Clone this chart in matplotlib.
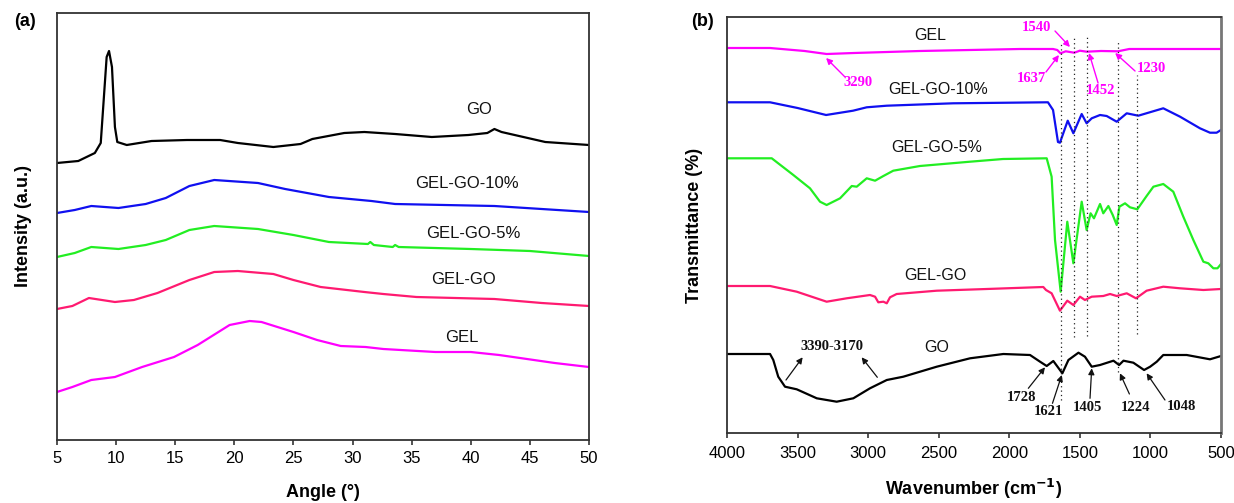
import matplotlib
matplotlib.use("Agg")
import matplotlib.pyplot as plt

plt.rcParams['font.family'] = ['Liberation Sans', 'DejaVu Sans']

# ---------------- Panel (a): XRD ----------------
go_a_x = [5, 6.8, 8.2, 8.7, 8.95, 9.2, 9.4, 9.65, 9.9, 10.1, 10.9, 13, 16, 18.8, 20.3, 23.3, 25.6, 26.6, 29.3, 31, 33.6, 36.7, 39.8, 41.4, 42, 42.6, 46.3, 50]
go_a_y = [277, 279, 287, 297, 340, 383, 389, 373, 313, 298, 295, 299, 300, 300, 297, 293, 296, 301, 307, 308, 306, 303, 305, 307, 311, 308, 298, 295]

g10_x = [5, 6.5, 7.9, 10.2, 12.5, 14.2, 16.2, 18.3, 22, 24.3, 28, 31.6, 33.6, 42, 50]
g10_y = [227, 230, 234, 232, 236, 242, 254, 260, 257, 251, 243, 239, 236, 234, 228]

g5_x = [5, 6.5, 7.9, 10.2, 12.5, 14.2, 16.2, 18.3, 22, 25, 28, 31.3, 31.5, 31.8, 33.4, 33.6, 33.9, 40, 45, 50]
g5_y = [183, 187, 193, 191, 195, 200, 210, 214, 211, 205, 198, 196, 198, 195, 193, 195, 193, 191, 189, 184]

gelgo_a_x = [5, 6.3, 7.7, 9.9, 11.5, 13.5, 16.2, 18.3, 20.3, 23.3, 25, 27.3, 31, 32.6, 35.4, 42, 46, 50]
gelgo_a_y = [131, 134, 142, 138, 140, 147, 160, 168, 169, 166, 160, 153, 148, 146, 143, 141, 137, 134]

gel_a_x = [5, 6.3, 7.9, 9.9, 12.2, 14.9, 16.9, 19.6, 21.3, 22.3, 25, 27, 29, 31.1, 32.6, 37, 40, 42.4, 47.1, 50]
gel_a_y = [48, 53, 60, 63, 73, 83, 95, 115, 119, 118, 108, 100, 94, 93, 91, 88, 88, 85, 77, 73]

xrd_labels = ["GO", "GEL-GO-10%", "GEL-GO-5%", "GEL-GO", "GEL"]
xrd_label_x = [40.7, 39.7, 40.2, 39.4, 39.2]
xrd_label_y = [330, 256, 206, 161, 102]

xrd_ticks = [5, 10, 15, 20, 25, 30, 35, 40, 45, 50]

# ---------------- Panel (b): FTIR ----------------
gel_b_x = [4000, 3695, 3450, 3294, 3100, 2633, 1924, 1690, 1660, 1637, 1600, 1540, 1500, 1452, 1350, 1230, 1150, 900, 500]
gel_b_y = [396, 396, 393, 390, 391, 393, 395, 395, 394, 390.7, 392.7, 391.3, 393.3, 392.3, 393, 392.7, 395, 395, 395]

g10_b_x = [4000, 3695, 3500, 3298, 3107, 3010, 2868, 2398, 1735, 1726, 1690, 1655, 1641, 1586, 1546, 1487, 1452, 1416, 1357, 1310, 1239, 1168, 1086, 909, 790, 649, 578, 531, 500]
g10_b_y = [341.7, 341.7, 336, 329, 333.3, 336.7, 338.3, 340.7, 341.7, 341.7, 334, 302, 301.3, 323.3, 310.7, 330, 320.7, 325.7, 329, 328, 322.3, 330.7, 328.3, 335.7, 327.3, 315.7, 311.3, 311.3, 314]

g5_b_x = [4000, 3683, 3530, 3412, 3341, 3294, 3199, 3116, 3081, 3010, 2951, 2892, 2822, 2633, 2278, 2044, 1735, 1700, 1676, 1636, 1589, 1546, 1487, 1452, 1424, 1400, 1357, 1334, 1298, 1267, 1239, 1220, 1180, 1145, 1093, 1027, 979, 909, 838, 767, 696, 625, 590, 554, 525, 500]
g5_b_y = [285.7, 285.7, 269, 255.7, 242.3, 239, 245.7, 258, 257.3, 265.7, 263.3, 268, 273.3, 278, 282.3, 285, 285.7, 267.3, 204, 152.3, 222.3, 180.7, 242.3, 214, 230.7, 225.7, 240, 230.7, 238, 229, 219, 237.3, 240.7, 236.7, 234.7, 248, 257.3, 260, 252.3, 227.3, 204, 182.3, 180.7, 175.7, 175.7, 180]

gelgo_b_x = [4000, 3695, 3506, 3294, 3152, 2987, 2951, 2928, 2892, 2868, 2845, 2798, 2514, 2160, 1759, 1740, 1700, 1641, 1589, 1546, 1499, 1464, 1416, 1334, 1286, 1239, 1168, 1102, 1027, 909, 790, 625, 500]
gelgo_b_y = [158, 158, 152.3, 142.3, 145.7, 149, 147.3, 141.7, 142.3, 140.7, 146.7, 150, 153.3, 155, 157, 154, 150.7, 133.3, 143.3, 139, 147.3, 144, 147.3, 148, 150, 148, 150.7, 145.7, 153.3, 157.3, 155.7, 154, 155]

go_b_x = [4000, 3695, 3672, 3637, 3589, 3506, 3364, 3223, 3105, 2987, 2868, 2751, 2514, 2278, 2042, 1853, 1782, 1735, 1688, 1624, 1581, 1510, 1464, 1416, 1357, 1262, 1222, 1191, 1121, 1045, 1002, 955, 909, 743, 578, 500]
go_b_y = [90, 90, 84, 67.3, 57.3, 54.7, 45.7, 42.3, 45.7, 55.7, 64, 67.3, 77.3, 85.7, 90, 89, 82.3, 78, 83, 70.7, 84, 91.3, 87.3, 77.3, 79, 83.3, 79, 83.3, 81.3, 74, 77.3, 82.3, 89, 89, 84.7, 88]

ftir_labels = ["GEL", "GEL-GO-10%", "GEL-GO-5%", "GEL-GO", "GO"]
ftir_label_x = [2562, 2505, 2513, 2526, 2514]
ftir_label_y = [409, 354, 296.7, 169, 96.7]

# dotted reference lines
dot_wn = [1637, 1540, 1452, 1230, 1095]
dot_top = [402, 407, 409, 404, 369]
dot_bottom = [44, 107, 108, 72, 110]

# magenta (GEL) peak annotations: text, text pos, arrow tail, arrow tip
gel_peaks = ["3290", "1637", "1540", "1452", "1230"]
gel_peak_tx = [3072, 1846, 1806, 1357, 990]
gel_peak_ty = [361, 365, 416.7, 353, 375]
gel_tail_x = [3164, 1740, 1676, 1371, 1109]
gel_tail_y = [367, 372, 413, 361, 373]
gel_tip_x = [3298, 1648, 1570, 1435, 1250]
gel_tip_y = [386, 389, 397, 391, 391]

# GO peak annotations
go_peaks = ["1728", "1621", "1405", "1224", "1048"]
go_peak_tx = [1912, 1723, 1447, 1109, 778]
go_peak_ty = [46.7, 32.3, 36.7, 36.3, 37.3]
go_tail_x = [1865, 1694, 1428, 1149, 897]
go_tail_y = [55.7, 40.7, 45.7, 50, 44]
go_tip_x = [1747, 1628, 1416, 1216, 1027]
go_tip_y = [76.7, 69, 75.7, 70.7, 70.7]

oh_label = "3390-3170"
oh_tx, oh_ty = 3258, 97.3
oh_tail_x = [3582, 2935]
oh_tail_y = [64, 66.7]
oh_tip_x = [3464, 3046]
oh_tip_y = [86.7, 86.7]

ftir_ticks = [4000, 3500, 3000, 2500, 2000, 1500, 1000, 500]

# ---------------- Figure ----------------
W, H = 1234, 503
fig = plt.figure(figsize=(W / 100, H / 100), dpi=100)

def px_axes(l, t, r, b):
    return fig.add_axes([l / W, 1 - b / H, (r - l) / W, (b - t) / H])

c_black = '#000000'
c_blue = '#1010f0'
c_green = '#22ee22'
c_pink = '#ff1a70'
c_mag = '#ff00ff'
spine_c = '#333333'

lw = 1.6

axa = px_axes(57, 12.7, 589, 440)
axa.plot(go_a_x, go_a_y, color=c_black, lw=lw)
axa.plot(g10_x, g10_y, color=c_blue, lw=lw)
axa.plot(g5_x, g5_y, color=c_green, lw=lw)
axa.plot(gelgo_a_x, gelgo_a_y, color=c_pink, lw=lw)
axa.plot(gel_a_x, gel_a_y, color=c_mag, lw=lw)
for t, x, y in zip(xrd_labels, xrd_label_x, xrd_label_y):
    axa.text(x, y, t, ha='center', va='center', fontsize=12, color='#111111')
axa.set_xlim(5, 50)
axa.set_ylim(0, 427.3)
axa.set_xticks(xrd_ticks)
axa.set_yticks([])
axa.tick_params(axis='x', direction='out', length=3.6, width=1.2, labelsize=12, pad=4.5, color=spine_c)
for s in axa.spines.values():
    s.set_color(spine_c)
    s.set_linewidth(1.3)
axa.set_xlabel("Angle (°)", fontsize=13, fontweight='bold', va='center')
axa.xaxis.set_label_coords(0.5, -0.1217)
axa.set_ylabel("Intensity (a.u.)", fontsize=13, fontweight='bold')
axa.yaxis.set_label_coords(-0.047, 0.5)
fig.text(25 / W, 1 - 22 / H, "(a)", fontsize=13, fontweight='bold', ha='center', va='center')

axb = px_axes(727, 17, 1221, 433)
axb.plot(gel_b_x, gel_b_y, color=c_mag, lw=lw)
axb.plot(g10_b_x, g10_b_y, color=c_blue, lw=lw)
axb.plot(g5_b_x, g5_b_y, color=c_green, lw=lw)
axb.plot(gelgo_b_x, gelgo_b_y, color=c_pink, lw=lw)
axb.plot(go_b_x, go_b_y, color=c_black, lw=lw)
axb.vlines(dot_wn, dot_bottom, dot_top, colors='#222222', linestyles=(0, (1, 2.5)), lw=0.9)
for t, x, y in zip(ftir_labels, ftir_label_x, ftir_label_y):
    axb.text(x, y, t, ha='center', va='center', fontsize=11.5, color='#111111')

serif = ['Liberation Serif', 'DejaVu Serif']
for t, x, y, x0, y0, x1, y1 in zip(gel_peaks, gel_peak_tx, gel_peak_ty, gel_tail_x, gel_tail_y, gel_tip_x, gel_tip_y):
    axb.text(x, y, t, ha='center', va='center', fontsize=10.5, fontweight='bold', color=c_mag, family=serif)
    axb.annotate('', xy=(x1, y1), xytext=(x0, y0),
                 arrowprops=dict(arrowstyle='-|>', color=c_mag, lw=1.0, mutation_scale=9, shrinkA=0, shrinkB=0))
for t, x, y, x0, y0, x1, y1 in zip(go_peaks, go_peak_tx, go_peak_ty, go_tail_x, go_tail_y, go_tip_x, go_tip_y):
    axb.text(x, y, t, ha='center', va='center', fontsize=10.5, fontweight='bold', color='#111111', family=serif)
    axb.annotate('', xy=(x1, y1), xytext=(x0, y0),
                 arrowprops=dict(arrowstyle='-|>', color='#111111', lw=0.9, mutation_scale=9, shrinkA=0, shrinkB=0))
axb.text(oh_tx, oh_ty, oh_label, ha='center', va='center', fontsize=10.5, fontweight='bold', color='#111111', family=serif)
for x0, y0, x1, y1 in zip(oh_tail_x, oh_tail_y, oh_tip_x, oh_tip_y):
    axb.annotate('', xy=(x1, y1), xytext=(x0, y0),
                 arrowprops=dict(arrowstyle='-|>', color='#111111', lw=0.9, mutation_scale=9, shrinkA=0, shrinkB=0))

axb.set_xlim(4000, 500)
axb.set_ylim(11, 427)
axb.set_xticks(ftir_ticks)
axb.set_yticks([])
axb.tick_params(axis='x', direction='out', length=3.6, width=1.2, labelsize=12, pad=6, color=spine_c)
for s in axb.spines.values():
    s.set_color(spine_c)
    s.set_linewidth(1.3)
axb.spines['right'].set_color('#777777')
axb.spines['right'].set_linewidth(2)
axb.set_xlabel("Wavenumber (cm$^{\\mathbf{-1}}$)", fontsize=13, fontweight='bold', va='center')
axb.xaxis.set_label_coords(0.5, -0.1346)
axb.set_ylabel("Transmittance (%)", fontsize=13, fontweight='bold')
axb.yaxis.set_label_coords(-0.0486, 0.5)
fig.text(703 / W, 1 - 21 / H, "(b)", fontsize=13, fontweight='bold', ha='center', va='center')

fig.savefig("out.png", dpi=100)
